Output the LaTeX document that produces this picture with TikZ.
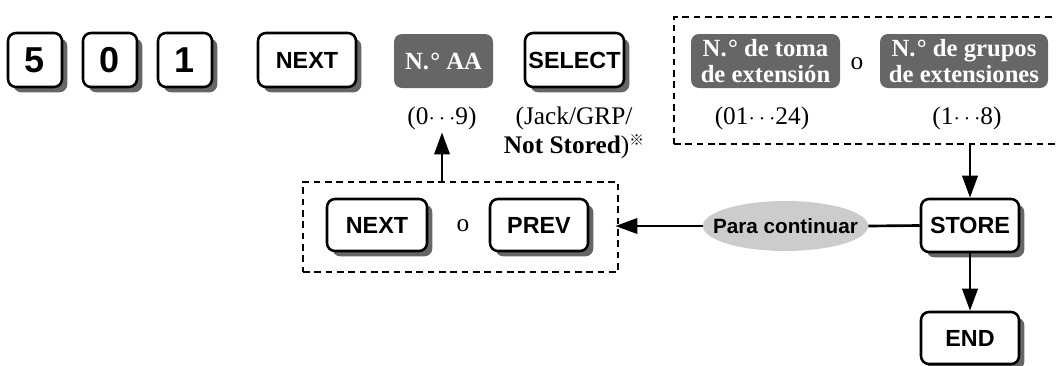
\documentclass[tikz,border=0pt]{standalone}
\usepackage{fontspec}
\setmainfont{Liberation Serif}
\setsansfont{Liberation Sans}
\newfontfamily\cjkfont{Noto Sans CJK JP}
\usetikzlibrary{shadows,arrows.meta,shapes.geometric}
\definecolor{keygray}{HTML}{666666}
\definecolor{shadowgray}{HTML}{666666}
\definecolor{ellgray}{HTML}{CCCCCC}
\tikzset{
  keybox/.style={draw=black, line width=1.9pt, rounded corners=6pt, fill=white,
    inner sep=0pt, minimum height=40.5pt,
    font=\sffamily\bfseries\fontsize{17.5}{20}\selectfont,
    drop shadow={shadow xshift=4pt, shadow yshift=-4pt, fill=shadowgray, opacity=1}},
  digitbox/.style={keybox, minimum width=40.5pt, font=\sffamily\bfseries\fontsize{27}{28}\selectfont},
  graybox/.style={fill=keygray, rounded corners=6pt, inner sep=0pt, minimum height=40.5pt,
    text=white, font=\bfseries\fontsize{18.5}{17}\selectfont, align=center},
  dbox/.style={draw=black, line width=2pt, dash pattern=on 5pt off 3.5pt, inner sep=0pt},
  lbl/.style={inner sep=0pt, font=\fontsize{19}{21.75}\selectfont, align=center},
  arr/.style={line width=2pt, -{Triangle[length=16.5pt,width=11.5pt]}},
  ln/.style={line width=2pt}
}
\begin{document}
\begin{tikzpicture}[x=0.75pt,y=-0.75pt]
\useasboundingbox (0,0) rectangle (1056,365);
% top row
\node[digitbox] (k5) at (35,60) {5};
\node[digitbox] (k0) at (110,60) {0};
\node[digitbox] (k1) at (185,60) {1};
\node[keybox, minimum width=73.5pt] (next1) at (307,60) {NEXT};
\node[graybox, minimum width=74.25pt] (aa) at (443.5,61) {N.\kern1pt\textdegree\ AA};
\node[keybox, minimum width=74.25pt] (select) at (574.5,60) {SELECT};
\node[lbl] (aarange) at (442,118) {(0$\cdots$9)};
\node[lbl] (selrange) at (574,132.5) {(Jack/GRP/\\\textbf{Not Stored})\raisebox{0.3em}{\cjkfont\fontsize{11}{11}\selectfont ※}};
% upper right dashed group
\node[dbox, minimum width=289.5pt, minimum height=95.25pt] (dbox1) at (867,80.5) {};
\node[graybox, minimum width=111.75pt, font=\bfseries\fontsize{18.5}{19.5}\selectfont] (toma) at (765.5,61) {N.\kern1pt\textdegree\ de toma\\de extensión};
\node[lbl] (o1) at (857,64) {o};
\node[graybox, minimum width=126pt, font=\bfseries\fontsize{18.5}{19.5}\selectfont] (grupos) at (964,61) {N.\kern1pt\textdegree\ de grupos\\de extensiones};
\node[lbl] (tomarange) at (762,118) {(01$\cdots$24)};
\node[lbl] (gruporange) at (967,118) {(1$\cdots$8)};
% lower left dashed group
\node[dbox, minimum width=236.25pt, minimum height=67.5pt] (dbox2) at (460.5,227) {};
\node[keybox, minimum width=75pt, minimum height=39pt] (next2) at (377,225) {NEXT};
\node[lbl] (o2) at (463,226) {o};
\node[keybox, minimum width=73.5pt, minimum height=39pt] (prev) at (539,225) {PREV};
% right column
\node[keybox, minimum width=73.5pt, minimum height=39.75pt] (store) at (970,225.5) {STORE};
\node[keybox, minimum width=73.5pt, minimum height=39pt] (endk) at (970,338) {END};
\node[ellipse, fill=ellgray, inner sep=0pt, minimum width=124pt, minimum height=37.5pt] (cont) at (785.5,226) {};
\node[inner sep=0pt, font=\sffamily\bfseries\fontsize{15.5}{18}\selectfont] (conttext) at (cont.center) {Para continuar};
% connectors
\coordinate (d1s) at (dbox1.south -| store);
\draw[arr] (d1s) -- (store.north);
\draw[arr] (store.south) -- (endk.north);
\draw[ln] (store.west) -- (cont.east);
\draw[arr, shorten >=-3pt] (cont.west) -- (dbox2.east |- cont.west);
\coordinate (d2n) at (dbox2.north -| aarange);
\draw[arr, shorten >=2pt] (d2n) -- (aarange.south);
\end{tikzpicture}
\end{document}
